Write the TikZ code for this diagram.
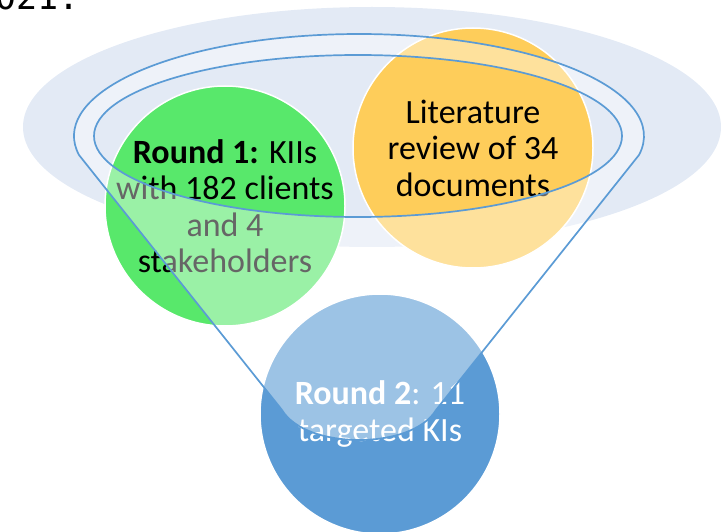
\documentclass[tikz,border=0pt]{standalone}
\usepackage{fontspec}
\setmainfont{Carlito}
\newfontfamily\codefont{DejaVu Sans Mono}
\usetikzlibrary{shapes.geometric}
\definecolor{bgblue}{HTML}{E3EAF5}
\definecolor{rgreen}{HTML}{58E86B}
\definecolor{rorange}{HTML}{FECD5A}
\definecolor{rblue}{HTML}{5B9BD5}
\definecolor{fline}{HTML}{5B9BD5}
\tikzset{
  ball/.style={circle, minimum size=240pt, inner sep=-30pt, draw=white, line width=1.5pt,
    align=center, font=\fontsize{34}{36.5}\selectfont},
  funnelshape/.style={fill=white, fill opacity=0.4, draw=fline, line width=1.7pt, even odd rule},
}
\begin{document}
\begin{tikzpicture}[x=1pt,y=1pt]
\useasboundingbox (0,0) rectangle (726,-532);
\clip (0,0) rectangle (726,-532);
\node[anchor=base west, inner sep=0pt, font=\codefont\fontsize{35}{40}\selectfont] (hdr) at (-5,-10) {021.};
\node[ellipse, fill=bgblue, minimum width=698pt, minimum height=240pt, inner sep=0pt] (bg) at (372,-127) {};
\node[ball, fill=rgreen] (r1) at (225,-206) {\textbf{Round 1:} KIIs\\with 182 clients\\and 4\\stakeholders};
\node[ball, fill=rorange] (lit) at (473,-148) {Literature\\review of 34\\documents};
\node[ball, fill=rblue, text=white] (r2) at (380,-414) {\textbf{Round 2}: 11\\targeted KIs};
\path[funnelshape] (78.96,-154.94) arc[start angle=190.7, end angle=-10.7, x radius=285, y radius=102]
  -- (436,-410) .. controls (412,-450) and (306,-450) .. (282,-410) -- cycle
  (358,-136) ellipse [x radius=264, y radius=81];
\end{tikzpicture}
\end{document}
